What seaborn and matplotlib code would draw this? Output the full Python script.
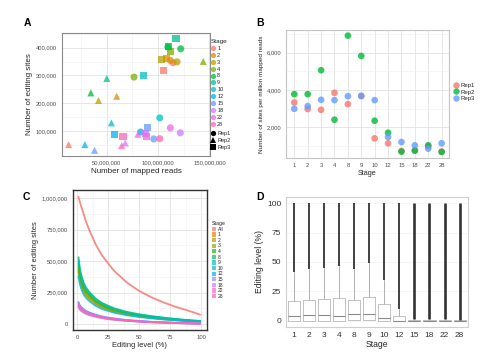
import numpy as np
import pandas as pd
import matplotlib
matplotlib.use("Agg")
import matplotlib.pyplot as plt
import seaborn as sns
from matplotlib.lines import Line2D
from matplotlib.patches import Patch
from matplotlib.ticker import FuncFormatter, FixedLocator

# ---------------- data ----------------
stages = ["1", "2", "3", "4", "8", "9", "10", "12", "15", "18", "22", "28"]
reps = ["Rep1", "Rep2", "Rep3"]

# Panel A: mapped reads (millions) and editing sites (thousands)
reads_rep1 = [114.5, 111.9, 118.4, 76.5, 122.0, 109.5, 101.6, 82.9, 95.8, 121.6, 111.9, 101.6]
sites_rep1 = [346, 354, 349, 294, 396, 402, 147, 96, 71, 93, 111, 72]
reads_rep2 = [12.9, 59.7, 41.9, 143.9, 34.5, 50.0, 54.5, 28.7, 38.1, 68.0, 80.3, 64.5]
sites_rep2 = [50.6, 225, 209.6, 350.6, 237, 289, 129, 50.6, 30, 56.6, 88, 47]
reads_rep3 = [105.5, 107.7, 102.9, 112.3, 109.7, 117.4, 86.1, 57.1, 89.4, 87.5, 88.7, 65.8]
sites_rep3 = [318, 360, 357.8, 385.5, 403.6, 432.5, 300, 85.5, 111, 91, 80.7, 79.5]

# Panel B: sites per million mapped reads
spm_rep1 = [3333, 2978, 2942, 3849, 3244, 3670, 1413, 1147, 741, 765, 992, 709]
spm_rep2 = [3778, 3778, 5058, 2409, 6907, 5822, 2356, 1716, 702, 756, 1040, 684]
spm_rep3 = [2996, 3138, 3476, 3458, 3671, 3689, 3458, 1484, 1218, 1040, 862, 1147]

# Panel C: number of editing sites (thousands) with editing level >= x
c_levels = [1, 2, 3, 5, 7, 10, 15, 20, 25, 30, 40, 50, 60, 70, 80, 90, 99]
c_stage_order = ["All"] + stages
c_all = [1010, 975, 940, 880, 815, 740, 630, 545, 480, 420, 330, 262, 212, 170, 135, 105, 75]
c_s1 = [430, 365, 325, 270, 236, 205, 164, 137, 118, 102, 79, 63, 51, 41, 32, 25, 19]
c_s2 = [415, 352, 313, 260, 228, 198, 158, 132, 114, 98, 76, 61, 49, 39, 31, 24, 19]
c_s3 = [455, 386, 344, 286, 250, 216, 173, 144, 124, 107, 83, 66, 54, 43, 34, 27, 21]
c_s4 = [480, 408, 363, 302, 264, 228, 182, 152, 131, 113, 88, 70, 57, 46, 36, 28, 22]
c_s8 = [530, 450, 400, 333, 291, 252, 201, 168, 145, 125, 97, 78, 63, 51, 40, 31, 25]
c_s9 = [505, 429, 381, 317, 277, 240, 192, 160, 138, 119, 92, 74, 60, 48, 38, 30, 24]
c_s10 = [380, 323, 287, 239, 209, 180, 144, 120, 104, 90, 70, 56, 45, 36, 29, 22, 17]
c_s12 = [175, 151, 137, 119, 105, 91, 74, 61, 51, 44, 32, 25, 18, 14, 10, 7, 4]
c_s15 = [135, 116, 105, 92, 81, 70, 57, 47, 39, 34, 25, 19, 14, 11, 8, 5, 3]
c_s18 = [155, 133, 121, 105, 93, 81, 65, 54, 45, 39, 29, 22, 16, 12, 9, 6, 4]
c_s22 = [165, 142, 129, 112, 99, 86, 69, 58, 48, 41, 31, 23, 17, 13, 10, 7, 4]
c_s28 = [145, 125, 113, 99, 87, 75, 61, 51, 42, 36, 27, 20, 15, 12, 8, 6, 4]

# Panel D: editing level box statistics (%)
d_q1 = [0, 0, 0, 0, 0.3, 0.3, 0, 0, 0, 0, 0, 0]
d_med = [4.3, 4.5, 4.5, 4.0, 5.4, 5.7, 2.3, 0, 0, 0, 0, 0]
d_q3 = [16.8, 17.3, 18.2, 19.0, 17.6, 19.9, 14.2, 3.7, 0.6, 0.6, 0.8, 0.3]
d_whisk = [41.8, 43.7, 45.2, 46.9, 44.0, 49.4, 34.4, 9.7, 1.2, 1.2, 1.6, 0.8]
d_outmax = [100, 100, 100, 100, 100, 100, 100, 100, 100, 100, 100, 100]


# ---------------- style helpers ----------------
def hue_pal(n, l=65.0, c=100.0, h0=15.0):
    cols = []
    Xn, Yn, Zn = 0.95047, 1.0, 1.08883
    un = 4 * Xn / (Xn + 15 * Yn + 3 * Zn)
    vn = 9 * Yn / (Xn + 15 * Yn + 3 * Zn)
    M = np.array([[3.2406, -1.5372, -0.4986],
                  [-0.9689, 1.8758, 0.0415],
                  [0.0557, -0.2040, 1.0570]])
    for i in range(n):
        h = np.deg2rad(h0 + i * 360.0 / n)
        u = c * np.cos(h)
        v = c * np.sin(h)
        Y = Yn * ((l + 16) / 116.0) ** 3
        up = u / (13 * l) + un
        vp = v / (13 * l) + vn
        X = Y * 9 * up / (4 * vp)
        Z = Y * (12 - 3 * up - 20 * vp) / (4 * vp)
        rgb = M @ np.array([X, Y, Z])
        out = []
        for ch in rgb:
            ch = 1.055 * ch ** (1 / 2.4) - 0.055 if ch > 0.0031308 else 12.92 * ch
            out.append(min(max(ch, 0), 1))
        cols.append(tuple(out))
    return cols


sns.set_style("white")
plt.rcParams["font.family"] = ["Liberation Sans", "DejaVu Sans"]

pal12 = hue_pal(12)
pal13 = hue_pal(13)
pal3 = hue_pal(3)

TXT = "#4d4d4d"
GRID_MAJ = "#e3e3e3"
GRID_MIN = "#f0f0f0"
PT_ALPHA = 0.75


def style_axes(ax, border, tick_fs, lw=0.8):
    for s in ax.spines.values():
        s.set_visible(True)
        s.set_color(border)
        s.set_linewidth(lw)
    ax.tick_params(axis="both", which="major", labelsize=tick_fs, colors=TXT,
                   length=2, width=0.5, pad=1.5)
    ax.tick_params(axis="both", which="minor", length=0)
    ax.set_axisbelow(True)


comma = FuncFormatter(lambda v, p: f"{int(round(v)):,}")

fig = plt.figure(figsize=(5, 3.55), dpi=100)
axA = fig.add_axes([0.124, 0.561, 0.296, 0.346])
axB = fig.add_axes([0.572, 0.555, 0.326, 0.360])
axC = fig.add_axes([0.145, 0.070, 0.269, 0.395])
axD = fig.add_axes([0.572, 0.079, 0.364, 0.366])

# ---------------- Panel A ----------------
dfA = pd.DataFrame({
    "reads": np.array(reads_rep1 + reads_rep2 + reads_rep3) * 1e6,
    "sites": np.array(sites_rep1 + sites_rep2 + sites_rep3) * 1e3,
    "Stage": stages * 3,
    "Rep": [r for r in reps for _ in stages],
})
sns.scatterplot(data=dfA, x="reads", y="sites", hue="Stage", style="Rep",
                hue_order=stages, style_order=reps, palette=pal12,
                markers={"Rep1": "o", "Rep2": "^", "Rep3": "s"},
                s=26, linewidth=0, alpha=PT_ALPHA, legend=False, ax=axA)
axA.set_xlim(6.4e6, 150.5e6)
axA.set_ylim(10e3, 453e3)
axA.xaxis.set_major_locator(FixedLocator([50e6, 100e6, 150e6]))
axA.xaxis.set_minor_locator(FixedLocator([25e6, 75e6, 125e6]))
axA.yaxis.set_major_locator(FixedLocator([100e3, 200e3, 300e3, 400e3]))
axA.yaxis.set_minor_locator(FixedLocator([50e3, 150e3, 250e3, 350e3, 450e3]))
axA.xaxis.set_major_formatter(comma)
axA.yaxis.set_major_formatter(comma)
axA.grid(True, which="major", color=GRID_MAJ, lw=0.6)
axA.grid(True, which="minor", color=GRID_MIN, lw=0.4)
style_axes(axA, "#8a8a8a", 4.2)
axA.set_xlabel("Number of mapped reads", fontsize=5.8, labelpad=1.5)
axA.set_ylabel("Number of editing sites", fontsize=5.8, labelpad=2)

hA = [Line2D([], [], ls="", marker="o", markersize=3.8, color=c, alpha=PT_ALPHA,
             markeredgewidth=0) for c in pal12]
legA = fig.legend(hA, stages, title="Stage", loc="upper left",
                  bbox_to_anchor=(0.421, 1 - 39 / 355), frameon=False,
                  fontsize=4, title_fontsize=4.6, labelspacing=0.34,
                  handletextpad=0.2, handlelength=1.0, borderpad=0,
                  borderaxespad=0)
legA._legend_box.align = "left"
hR = [Line2D([], [], ls="", marker=m, markersize=3.8, color="black",
             markeredgewidth=0) for m in ["o", "^", "s"]]
fig.legend(hR, reps, loc="upper left", bbox_to_anchor=(0.421, 1 - 131 / 355),
           frameon=False, fontsize=4, labelspacing=0.35, handletextpad=0.2,
           handlelength=1.0, borderpad=0, borderaxespad=0)

# ---------------- Panel B ----------------
dfB = pd.DataFrame({
    "Stage": stages * 3,
    "spm": spm_rep1 + spm_rep2 + spm_rep3,
    "Rep": [r for r in reps for _ in stages],
})
sns.stripplot(data=dfB, x="Stage", y="spm", hue="Rep", order=stages,
              hue_order=reps, palette=pal3, jitter=False, dodge=False,
              size=4.8, linewidth=0, alpha=PT_ALPHA + 0.05, legend=False, ax=axB)
axB.set_xlim(-0.62, 11.55)
axB.set_ylim(364, 7200)
axB.yaxis.set_major_locator(FixedLocator([2000, 4000, 6000]))
axB.yaxis.set_minor_locator(FixedLocator([1000, 3000, 5000, 7000]))
axB.yaxis.set_major_formatter(comma)
axB.grid(True, which="major", color=GRID_MAJ, lw=0.6)
axB.grid(True, which="minor", axis="y", color=GRID_MIN, lw=0.4)
style_axes(axB, "#c4c4c4", 4.2)
axB.set_xlabel("Stage", fontsize=5.2, labelpad=1.5)
axB.set_ylabel("Number of sites per million mapped reads", fontsize=4.6, labelpad=2)
hB = [Line2D([], [], ls="", marker="o", markersize=4.6, color=c,
             alpha=PT_ALPHA + 0.05, markeredgewidth=0) for c in pal3]
fig.legend(hB, reps, loc="upper left", bbox_to_anchor=(0.906, 1 - 83 / 355),
           frameon=False, fontsize=4.3, labelspacing=0.2, handletextpad=0.2,
           handlelength=1.0, borderpad=0, borderaxespad=0)

# ---------------- Panel C ----------------
c_series = [c_all, c_s1, c_s2, c_s3, c_s4, c_s8, c_s9, c_s10,
            c_s12, c_s15, c_s18, c_s22, c_s28]
recs = []
for name, vals in zip(c_stage_order, c_series):
    for lv, v in zip(c_levels, vals):
        recs.append((name, lv, v * 1e3))
dfC = pd.DataFrame(recs, columns=["Stage", "level", "sites"])
sns.lineplot(data=dfC, x="level", y="sites", hue="Stage",
             hue_order=c_stage_order, palette=pal13, linewidth=1.3,
             alpha=0.85, legend=False, ax=axC)
axC.set_xlim(-3.8, 104.5)
axC.set_ylim(-48e3, 1065e3)
axC.xaxis.set_major_locator(FixedLocator([0, 25, 50, 75, 100]))
axC.xaxis.set_minor_locator(FixedLocator([12.5, 37.5, 62.5, 87.5]))
axC.yaxis.set_major_locator(FixedLocator([0, 250e3, 500e3, 750e3, 1000e3]))
axC.yaxis.set_minor_locator(FixedLocator([125e3, 375e3, 625e3, 875e3]))
axC.yaxis.set_major_formatter(comma)
axC.grid(True, which="major", color=GRID_MAJ, lw=0.6)
axC.grid(True, which="minor", color=GRID_MIN, lw=0.4)
style_axes(axC, "#333333", 4.2, lw=1.0)
axC.set_xlabel("Editing level (%)", fontsize=5.4, labelpad=1.5)
axC.set_ylabel("Number of editing sites", fontsize=5.4, labelpad=2)
hC = [Patch(facecolor=c, edgecolor="none", alpha=0.7) for c in pal13]
legC = fig.legend(hC, c_stage_order, title="Stage", loc="upper left",
                  bbox_to_anchor=(0.423, 1 - 221 / 355), frameon=False,
                  fontsize=3.6, title_fontsize=3.8, labelspacing=0.12,
                  handletextpad=0.3, handlelength=0.9, handleheight=0.9,
                  borderpad=0, borderaxespad=0)
legC._legend_box.align = "left"

# ---------------- Panel D ----------------
pos = np.arange(len(stages))
stats = []
for i, st in enumerate(stages):
    stats.append({"label": st, "q1": d_q1[i], "med": d_med[i], "q3": d_q3[i],
                  "whislo": d_q1[i], "whishi": d_whisk[i], "fliers": []})
axD.bxp(stats, positions=pos, widths=0.8, showfliers=False, showcaps=False,
        boxprops=dict(color="#c2c2c2", lw=0.7),
        whiskerprops=dict(color="#b0b0b0", lw=0.7),
        medianprops=dict(color="#8a8a8a", lw=0.8))
out_w = [1.3] * 8 + [1.9] * 4
axD.vlines(pos, d_whisk, d_outmax, colors="#333333", lw=out_w)
axD.set_xlim(-0.5, 11.55)
axD.set_ylim(-5.3, 105.3)
axD.set_xticks(pos)
axD.set_xticklabels(stages)
axD.yaxis.set_major_locator(FixedLocator([0, 25, 50, 75, 100]))
axD.grid(True, which="major", axis="y", color="#f2f2f2", lw=0.5)
style_axes(axD, "#cfcfcf", 6.0)
axD.tick_params(axis="both", colors="#333333")
axD.set_xlabel("Stage", fontsize=6.2, labelpad=1)
axD.set_ylabel("Editing level (%)", fontsize=6.2, labelpad=2)

# ---------------- panel letters ----------------
for lab, (px, py) in {"A": (27, 23), "B": (260, 23), "C": (26, 197), "D": (260, 197)}.items():
    fig.text(px / 500, 1 - py / 355, lab, fontsize=7.5, fontweight="bold",
             ha="center", va="center", color="black")

fig.savefig("out.png", dpi=100)
